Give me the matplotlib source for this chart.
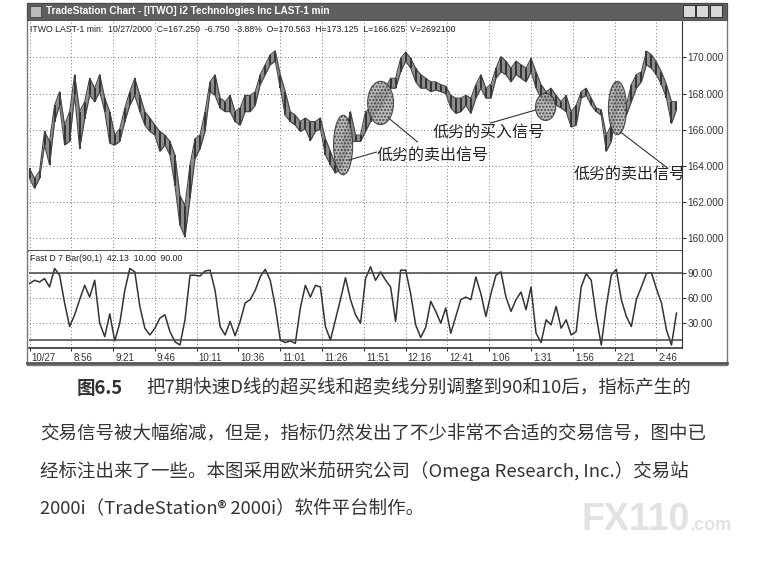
import matplotlib.pyplot as plt
from matplotlib.patches import Ellipse, Rectangle
from matplotlib.lines import Line2D
import matplotlib.transforms as mtransforms
import numpy as np

plt.rcParams['font.family'] = ['Liberation Sans', 'DejaVu Sans']
CJK = ['Noto Sans CJK SC', 'DejaVu Sans']

W, H = 766, 576

# one price bar every 3 minutes from 8:31 (low / high)
price_lo = [163.3, 162.75, 163.3, 165.15, 164.05, 166.45, 167.35, 165.15, 165.35, 167.9,
            164.95, 166.6, 167.9, 167.55, 168.1, 167.0, 165.25, 165.15, 165.35, 166.45,
            167.35, 167.9, 167.0, 166.25, 165.9, 165.7, 164.8, 165.15, 164.6, 162.9,
            160.7, 160.05, 162.2, 164.4, 164.95, 165.9, 168.1, 167.9, 167.2, 167.0,
            167.0, 166.45, 166.25, 167.0, 167.0, 167.35, 168.5, 169.05, 169.6, 169.8,
            168.3, 166.8, 166.45, 166.25, 165.9, 166.05, 165.4, 165.9, 166.05, 164.6,
            164.05, 163.6, 163.85, 164.6, 165.35, 165.35, 165.35, 165.9, 166.45, 167.0,
            167.2, 167.75, 168.3, 168.3, 169.2, 169.8, 169.4, 168.65, 168.3, 168.3,
            168.1, 168.2, 168.1, 168.0, 167.2, 166.9, 167.0, 167.35, 166.9, 167.75,
            168.3, 167.75, 167.75, 168.85, 169.2, 169.05, 168.65, 169.05, 168.85, 168.65,
            169.2, 168.3, 167.75, 167.55, 167.55, 167.35, 167.2, 167.0, 166.15, 166.25,
            167.75, 167.9, 167.35, 167.0, 166.8, 164.8, 165.35, 167.0, 167.55, 166.8,
            167.55, 168.3, 168.65, 169.6, 169.4, 169.05, 168.5, 167.75, 166.35, 167.1]
price_hi = [163.85, 163.3, 163.7, 165.9, 165.35, 167.35, 168.1, 166.25, 167.0, 169.05,
            167.0, 167.55, 168.85, 168.3, 169.05, 167.75, 167.0, 165.7, 166.05, 167.2,
            168.1, 168.85, 167.9, 167.0, 166.65, 166.25, 165.9, 165.7, 165.35, 164.6,
            162.35, 161.8, 164.05, 165.5, 165.7, 167.0, 168.65, 169.05, 167.75, 167.55,
            167.9, 167.0, 167.2, 167.9, 167.9, 168.1, 169.05, 169.6, 170.15, 170.37,
            169.05, 168.1, 167.0, 166.8, 166.45, 166.65, 166.45, 166.45, 166.65, 165.5,
            164.8, 164.05, 164.6, 165.9, 167.0, 165.7, 165.7, 167.0, 167.2, 167.9,
            168.1, 168.3, 168.85, 168.85, 169.95, 170.3, 169.95, 169.4, 169.05, 168.85,
            168.65, 168.65, 168.5, 168.4, 167.9, 167.75, 167.75, 167.9, 167.75, 168.5,
            169.05, 168.3, 168.5, 169.4, 170.05, 169.8, 169.4, 169.8, 169.6, 169.4,
            169.95, 169.2, 168.5, 168.1, 168.3, 167.9, 167.55, 167.9, 167.0, 167.35,
            168.1, 168.3, 167.75, 167.2, 167.1, 165.7, 166.25, 168.65, 168.1, 167.35,
            168.5, 169.05, 169.2, 170.35, 170.15, 169.75, 169.2, 168.5, 167.55, 167.55]
fast_d = [77, 81, 79, 83, 73, 95, 87, 54, 26, 40,
          58, 75, 61, 81, 30, 14, 41, 9, 30, 69,
          95, 91, 50, 24, 16, 24, 36, 40, 20, 8,
          4, 34, 87, 87, 86, 92, 93, 69, 26, 16,
          32, 15, 32, 54, 58, 69, 85, 94, 81, 50,
          10, 7, 9, 6, 48, 75, 61, 75, 73, 26,
          10, 34, 58, 84, 58, 40, 30, 83, 97, 81,
          91, 81, 73, 32, 93, 93, 65, 28, 13, 25,
          56, 44, 30, 48, 18, 38, 58, 61, 58, 85,
          65, 38, 65, 87, 91, 61, 44, 58, 67, 46,
          73, 18, 7, 34, 28, 50, 24, 34, 16, 20,
          73, 89, 81, 38, 4, 50, 87, 94, 58, 38,
          26, 58, 73, 89, 90, 71, 54, 22, 4, 42]
minutes = np.arange(len(price_lo)) * 3

time_labels = ['10/27', '8:56', '9:21', '9:46', '10:11', '10:36', '11:01', '11:26',
               '11:51', '12:16', '12:41', '1:06', '1:31', '1:56', '2:21', '2:46']
time_pos = np.arange(len(time_labels)) * 25
price_ticks = [160, 162, 164, 166, 168, 170]
stoch_ticks = [30, 60, 90]

# signals: (minute, price, width, height)
ellipses = [(187.6, 165.15, 11.4, 3.3), (210, 167.48, 15.5, 2.4),
            (308.7, 167.26, 12, 1.5), (351.7, 167.2, 10.8, 2.95)]


def fx(x):
    return x / W


def fy(y):
    return 1 - y / H


fig = plt.figure(figsize=(W / 100, H / 100), dpi=100)
fig.patch.set_facecolor('white')

# window frame and title bar
fig.patches.append(Rectangle((fx(27), fy(365)), 700 / W, 362 / H, transform=fig.transFigure,
                             fill=False, ec='#777777', lw=1))
fig.patches.append(Rectangle((fx(27), fy(20)), 700 / W, 17 / H, transform=fig.transFigure,
                             fc='#5f5f5f', ec='#444444', lw=0.6))
fig.text(fx(46), fy(11.5), 'TradeStation Chart - [ITWO] i2 Technologies Inc LAST-1 min',
         color='white', fontsize=7.2, fontweight='bold', va='center')
fig.patches.append(Rectangle((fx(30), fy(17)), 11 / W, 11 / H, transform=fig.transFigure,
                             fc='#bbbbbb', ec='#333333', lw=0.5))
for bx in [683, 696, 710]:
    fig.patches.append(Rectangle((fx(bx), fy(17)), 12 / W, 12 / H, transform=fig.transFigure,
                                 fc='#d8d8d8', ec='#222222', lw=0.6))
fig.add_artist(Line2D([fx(27), fx(727)], [fy(363), fy(363)], color='#555555', lw=2))

grid_kw = dict(color='#777777', ls=(0, (1, 2.5)), lw=0.7)

# price panel
ax = fig.add_axes([fx(29), fy(251), 653 / W, 230 / H])
ax.fill_between(minutes, price_lo, price_hi, color='#8c8c8c', lw=0)
ax.vlines(minutes, price_lo, price_hi, color='#333333', lw=1.4)
ax.plot(minutes, price_lo, color='#444444', lw=0.8)
ax.plot(minutes, price_hi, color='#444444', lw=0.8)
ax.set_xlim(-0.3, 390.3)
ax.set_ylim(159.28, 172.02)
for e in ellipses:
    ax.add_patch(Ellipse(e[:2], e[2], e[3], fc='#b0b0b0', ec='#333333', lw=0.8,
                         alpha=0.85, hatch='.....', zorder=3))
line_kw = dict(color='#333333', lw=0.8, zorder=4)
ax.plot([191, 207.5], [164.32, 164.76], **line_kw)
ax.plot([214.7, 232.1], [166.65, 165.32], **line_kw)
ax.plot([302.7, 275.8], [167.09, 166.37], **line_kw)
ax.plot([353.5, 381.6], [165.87, 163.88], **line_kw)
ax.text(207.5, 164.6, '低劣的卖出信号', family=CJK, fontsize=11.5, color='#222222',
        va='center', ha='left', zorder=5)
ax.text(241, 165.87, '低劣的买入信号', family=CJK, fontsize=11.5, color='#222222',
        va='center', ha='left', zorder=5)
ax.text(325.6, 163.55, '低劣的卖出信号', family=CJK, fontsize=11.5, color='#222222',
        va='center', ha='left', zorder=5, clip_on=True)
ax.text(0.002, 0.965, 'ITWO LAST-1 min:  10/27/2000  C=167.250  -6.750  -3.88%  '
        'O=170.563  H=173.125  L=166.625  V=2692100', transform=ax.transAxes,
        fontsize=6.3, color='#222222', va='center')
ax.set_xticks(time_pos)
ax.set_yticks(price_ticks)
ax.set_yticklabels(['%.3f' % p for p in price_ticks])
ax.yaxis.tick_right()
ax.tick_params(axis='y', length=3, labelsize=7.2, pad=1, colors='#333333')
ax.tick_params(axis='x', length=0, labelbottom=False)
ax.grid(True, **grid_kw)
for s in ['left', 'top']:
    ax.spines[s].set_visible(False)
ax.spines['right'].set_color('#333333')
ax.spines['bottom'].set_color('#333333')
ax.spines['bottom'].set_linewidth(1.2)

# fast D panel
ax2 = fig.add_axes([fx(29), fy(348), 653 / W, 97 / H])
ax2.plot(minutes, fast_d, color='#333333', lw=1.1)
ax2.axhline(90, color='#444444', lw=1.1)
ax2.axhline(10, color='#444444', lw=1.1)
ax2.set_xlim(-0.3, 390.3)
ax2.set_ylim(0.5, 115.8)
ax2.set_yticks(stoch_ticks)
ax2.set_yticklabels(['%.2f' % v for v in stoch_ticks])
ax2.yaxis.tick_right()
ax2.tick_params(axis='y', length=3, labelsize=7.2, pad=1, colors='#333333')
ax2.set_xticks(time_pos)
ax2.set_xticklabels(time_labels, ha='left')
ax2.tick_params(axis='x', length=2, labelsize=7, pad=1.5, colors='#333333')
offset = mtransforms.ScaledTranslation(2 / 100, 0, fig.dpi_scale_trans)
for lab in ax2.get_xticklabels():
    lab.set_transform(lab.get_transform() + offset)
ax2.grid(True, **grid_kw)
for s in ['left', 'top']:
    ax2.spines[s].set_visible(False)
ax2.spines['right'].set_color('#333333')
ax2.spines['bottom'].set_color('#333333')
ax2.spines['bottom'].set_linewidth(1.2)
ax2.text(0.002, 0.92, 'Fast D 7 Bar(90,1)  42.13  10.00  90.00', transform=ax2.transAxes,
         fontsize=6.3, color='#222222', va='center')

# caption
cap_kw = dict(family=CJK, fontsize=13.3, color='#333333', va='center')
fig.text(fx(77), fy(388), '图6.5', fontweight='bold', **cap_kw)
fig.text(fx(146), fy(388), '把7期快速D线的超买线和超卖线分别调整到90和10后，指标产生的', **cap_kw)
fig.text(fx(40), fy(434), '交易信号被大幅缩减，但是，指标仍然发出了不少非常不合适的交易信号，图中已', **cap_kw)
fig.text(fx(40), fy(471), '经标注出来了一些。本图采用欧米茄研究公司（Omega Research, Inc.）交易站', **cap_kw)
fig.text(fx(40), fy(509), '2000i（TradeStation® 2000i）软件平台制作。', **cap_kw)

# watermark
fig.text(fx(582), fy(520), 'FX110', fontsize=27, fontweight='bold', color='#e2e2e2', va='center')
fig.text(fx(690), fy(526), '.com', fontsize=13, fontweight='bold', color='#e2e2e2', va='center')

fig.savefig('out.png', dpi=100)
